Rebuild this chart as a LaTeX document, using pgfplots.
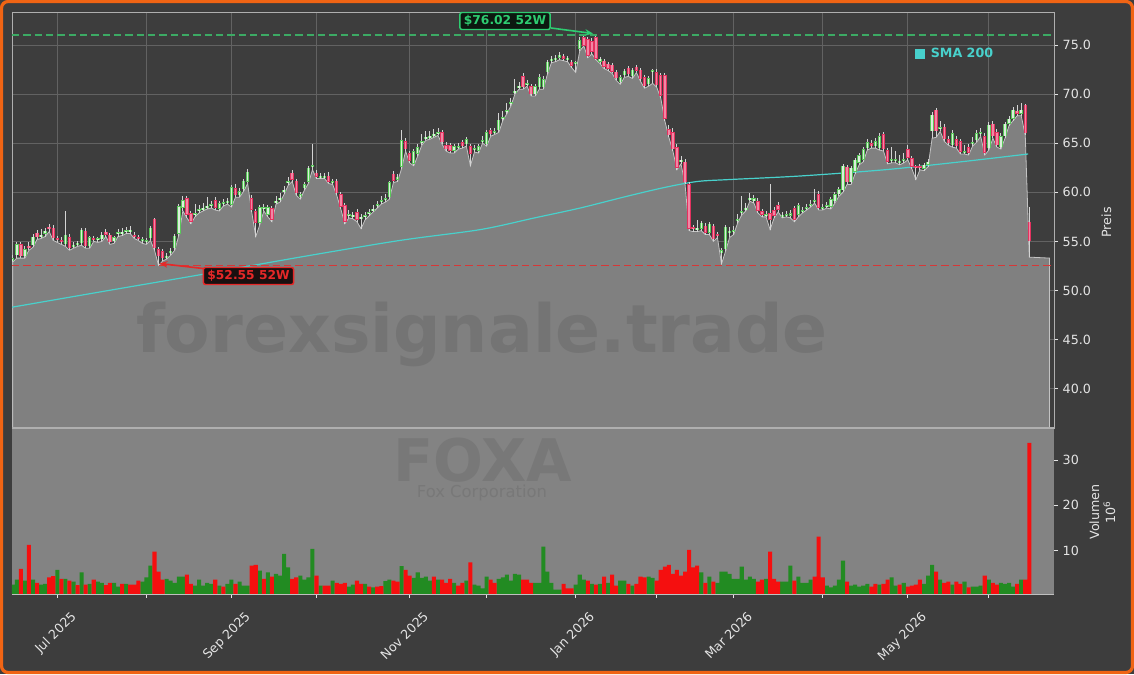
\documentclass[border=0pt]{standalone}
\usepackage{pgfplots}
\pgfplotsset{compat=1.18}
\usepackage{pgfplotstable}
\usepackage{fontspec}
\setmainfont{DejaVu Sans}
\usetikzlibrary{arrows.meta}

\definecolor{bg}{RGB}{61,61,61}
\definecolor{areagray}{RGB}{128,128,128}
\definecolor{arealine}{RGB}{195,195,195}
\definecolor{volbg}{RGB}{131,131,131}
\definecolor{gridc}{RGB}{98,98,98}
\definecolor{spine}{RGB}{175,175,175}
\definecolor{ticktext}{RGB}{228,228,228}
\definecolor{smac}{RGB}{72,209,204}
\definecolor{hiline}{RGB}{60,170,100}
\definecolor{upedge}{RGB}{90,200,90}
\definecolor{upfill}{RGB}{220,238,220}
\definecolor{dnedge}{RGB}{228,50,95}
\definecolor{dnfill}{RGB}{242,135,165}
\definecolor{wick}{RGB}{212,212,212}
\definecolor{volgreen}{RGB}{34,139,34}
\definecolor{volred}{RGB}{245,15,15}
\definecolor{borderc}{RGB}{240,100,20}
\definecolor{wm}{RGB}{116,116,116}
\definecolor{wmb}{RGB}{120,120,120}
\definecolor{annog}{RGB}{46,204,113}
\definecolor{annogbg}{RGB}{12,24,16}
\definecolor{annor}{RGB}{230,40,40}
\definecolor{annorbg}{RGB}{26,16,16}
\definecolor{lowline}{RGB}{215,55,55}

\newcommand\tl{\fontsize{9.5}{11}\selectfont}

\pgfplotstableread{
i o h l c v g
-11 53.0 53.6 52.9 53.3 2.5 1
-10 53.6 54.9 53.3 54.7 3.6 1
-9 54.7 54.9 53.3 53.5 6.0 0
-8 53.5 54.5 53.3 54.2 3.4 1
-7 54.5 54.9 54.1 54.4 11.3 0
-6 54.6 55.8 54.4 55.5 3.6 1
-5 55.9 56.2 55.2 55.4 2.9 0
-4 55.5 56.3 55.3 55.7 2.5 1
-3 55.8 56.4 55.5 56.1 2.7 1
-2 56.5 56.8 56.0 56.3 4.1 0
-1 56.4 56.7 55.1 55.3 4.4 0
0 55.3 55.6 54.9 55.2 5.8 1
1 55.1 55.5 54.7 55.0 3.8 0
2 54.7 58.1 54.5 55.7 3.8 1
3 55.4 55.8 54.1 54.3 3.4 0
4 54.5 54.9 54.3 54.6 3.2 1
5 54.7 55.0 54.5 54.8 2.4 0
6 54.8 56.4 54.6 56.2 5.2 1
7 56.1 56.4 54.3 54.5 2.5 0
8 54.5 55.6 54.3 55.4 2.7 1
9 55.3 55.6 55.0 55.2 3.6 0
10 55.2 55.5 54.9 55.3 3.2 1
11 55.2 56.0 55.0 55.7 2.9 1
12 56.0 56.3 55.5 55.7 2.4 0
13 55.7 55.9 54.7 54.9 2.9 0
14 55.0 55.6 54.8 55.4 2.9 1
15 55.8 56.3 55.5 55.9 2.1 1
16 55.9 56.4 55.6 55.9 2.7 0
17 56.0 56.5 55.8 56.1 2.7 1
18 56.1 56.6 55.8 56.1 2.5 0
19 55.6 56.0 55.3 55.5 2.5 0
20 55.4 55.7 55.1 55.3 3.4 0
21 55.1 55.4 54.8 55.1 3.2 1
22 55.0 55.3 54.7 55.0 4.1 1
23 55.3 56.6 55.1 56.4 6.7 1
24 57.3 57.4 54.1 54.3 9.8 0
25 54.2 54.4 52.55 53.5 5.4 0
26 54.0 54.2 53.0 53.3 3.6 0
27 53.4 53.8 53.2 53.5 3.8 1
28 53.9 54.3 53.6 54.0 3.4 1
29 54.3 55.8 54.1 55.6 2.9 1
30 55.8 58.8 55.6 58.6 4.3 1
31 58.4 59.6 58.1 59.2 4.3 1
32 59.4 59.6 57.4 57.7 4.7 0
33 57.9 58.1 56.8 57.0 2.7 0
34 57.8 58.8 57.5 57.8 2.3 1
35 58.1 58.7 57.9 58.2 3.6 1
36 58.3 58.9 58.1 58.4 2.3 1
37 58.5 59.5 58.3 58.6 2.9 1
38 58.7 59.1 58.4 58.7 2.7 1
39 59.2 59.5 58.2 58.4 3.6 0
40 58.3 59.1 58.1 58.9 2.3 1
41 58.9 59.3 58.6 58.9 2.1 0
42 59.0 59.4 58.8 59.1 2.7 1
43 58.7 60.7 58.5 60.5 3.6 1
44 60.4 60.8 59.5 59.7 2.7 0
45 59.7 60.4 59.5 60.1 3.2 1
46 60.3 61.4 60.1 61.2 2.3 1
47 61.1 62.4 60.9 62.1 2.3 1
48 59.4 59.7 58.0 58.2 6.7 0
49 58.1 58.3 55.5 56.9 6.9 0
50 56.9 58.7 56.7 58.5 5.6 1
51 58.4 58.8 58.1 58.4 3.8 0
52 57.7 58.7 57.5 58.5 5.2 1
53 58.4 58.6 57.0 57.2 4.3 0
54 59.0 59.6 58.8 59.1 4.9 1
55 59.3 59.9 59.0 59.4 4.5 1
56 60.1 60.6 59.8 60.2 9.3 1
57 61.0 61.6 60.7 61.1 6.3 1
58 62.0 62.3 61.1 61.3 3.8 0
59 61.2 61.4 59.7 59.9 4.1 0
60 59.5 60.0 59.3 59.8 4.5 1
61 60.4 61.0 60.2 60.8 3.6 1
62 61.1 62.7 60.9 62.5 4.1 1
63 62.6 64.9 62.3 62.7 10.4 1
64 62.0 62.3 61.4 61.6 4.5 0
65 61.6 62.0 61.4 61.6 2.3 1
66 61.6 62.0 61.4 61.6 2.3 0
67 61.7 62.1 60.9 61.1 2.3 0
68 61.0 61.4 60.8 61.1 3.4 1
69 61.2 61.4 59.7 59.9 2.9 0
70 59.8 60.0 58.3 58.5 2.7 0
71 58.7 58.9 56.8 57.0 2.9 0
72 57.7 58.2 57.4 57.7 2.1 1
73 57.6 58.0 57.3 57.6 2.5 1
74 58.0 58.3 57.0 57.2 3.4 0
75 57.4 57.8 56.3 57.4 2.7 0
76 57.5 58.0 57.2 57.6 2.7 1
77 57.8 58.3 57.6 57.9 2.1 0
78 58.2 58.7 58.0 58.3 1.9 1
79 58.6 59.1 58.4 58.8 2.1 0
80 59.0 59.6 58.8 59.2 2.2 0
81 59.2 59.8 59.0 59.4 3.3 1
82 59.5 61.2 59.3 61.0 3.6 1
83 61.9 62.2 61.0 61.2 3.4 0
84 61.3 61.9 61.1 61.6 3.2 0
85 62.6 66.3 62.4 65.3 6.6 1
86 65.2 65.5 64.2 64.4 5.8 0
87 64.0 64.2 63.0 63.2 4.5 0
88 62.9 64.4 62.7 64.2 4.0 1
89 63.9 64.9 63.7 64.6 5.2 1
90 65.0 65.9 64.8 65.2 4.0 1
91 65.5 66.2 65.3 65.6 4.3 1
92 65.6 66.2 65.4 65.7 3.4 1
93 65.8 66.4 65.6 65.9 4.3 0
94 66.0 66.6 65.8 66.1 3.6 1
95 66.1 66.3 64.9 65.1 3.6 0
96 64.8 65.1 64.2 64.4 2.9 0
97 64.8 65.0 64.0 64.2 3.8 0
98 64.2 64.9 64.0 64.7 2.9 1
99 64.6 65.0 64.4 64.6 2.3 0
100 65.1 65.3 64.5 64.7 2.9 0
101 64.9 65.6 64.7 65.4 3.4 1
102 64.7 64.9 62.7 63.9 7.4 0
103 64.4 64.8 64.1 64.4 2.5 1
104 64.2 64.9 64.0 64.7 2.3 1
105 65.2 65.7 65.0 65.2 1.7 1
106 64.9 66.3 64.7 66.1 4.3 1
107 66.3 66.5 65.7 65.9 3.6 0
108 66.1 66.5 65.9 66.1 2.9 0
109 66.3 68.1 66.1 67.4 3.8 1
110 67.5 68.3 67.3 67.6 4.1 1
111 68.2 69.1 68.0 68.3 4.7 1
112 69.0 69.6 68.8 69.1 3.4 1
113 70.2 71.5 70.0 70.3 4.9 1
114 70.7 71.2 70.5 70.8 4.7 1
115 71.8 72.2 70.5 70.7 3.6 0
116 71.0 71.4 70.8 71.0 3.6 0
117 70.8 71.0 69.8 70.0 2.9 0
118 70.0 71.0 69.8 70.8 2.9 1
119 70.7 72.0 70.5 71.7 2.9 1
120 70.7 71.8 70.5 71.5 10.9 1
121 72.2 73.5 72.0 73.3 5.4 1
122 73.4 73.9 73.2 73.6 2.9 1
123 73.5 74.0 73.3 73.7 1.4 1
124 73.7 74.3 73.5 74.0 1.4 1
125 73.9 74.1 73.4 73.6 2.7 0
126 73.6 73.9 73.3 73.6 1.7 0
127 73.3 73.5 72.7 72.9 1.7 0
128 73.1 73.4 72.2 73.2 2.5 1
129 74.6 75.8 74.4 75.5 4.7 1
130 75.8 76.0 74.9 74.9 3.6 1
131 75.6 75.8 73.7 73.9 3.4 0
132 75.4 75.7 74.1 74.3 2.7 1
133 75.8 76.02 73.5 73.6 2.5 0
134 73.3 73.8 73.1 73.6 2.7 1
135 73.4 73.6 72.6 72.8 4.3 0
136 73.1 73.3 72.4 72.6 2.9 1
137 73.0 73.2 72.1 72.3 4.7 0
138 72.3 72.5 71.4 71.6 2.3 0
139 71.2 71.9 71.0 71.7 3.4 1
140 71.9 72.6 71.7 72.4 3.4 1
141 72.7 72.9 71.8 72.0 2.7 0
142 71.8 72.7 71.6 72.5 2.3 1
143 72.8 73.0 72.2 72.4 2.7 0
144 72.5 72.7 71.3 71.5 4.3 0
145 71.7 71.9 70.6 70.8 4.1 0
146 71.0 71.8 70.8 71.6 4.3 1
147 72.3 72.6 71.1 72.4 4.0 1
148 72.2 72.6 70.7 70.9 3.4 0
149 71.9 72.1 69.6 69.8 5.8 0
150 71.9 72.1 67.3 67.5 6.5 0
151 66.4 66.9 65.6 65.8 6.9 0
152 66.1 66.6 64.2 64.4 4.9 0
153 64.6 64.9 62.3 62.5 5.8 0
154 63.2 63.7 62.9 63.2 4.5 0
155 63.1 63.4 60.8 61.0 5.4 0
156 60.8 61.0 56.1 56.3 10.2 0
157 56.4 56.7 56.0 56.3 6.3 0
158 56.3 57.2 56.0 56.3 6.7 0
159 56.3 57.1 56.1 56.9 5.2 1
160 56.6 56.9 55.7 55.9 2.9 0
161 55.9 57.0 55.7 56.8 4.3 1
162 56.6 56.8 55.0 55.2 3.2 0
163 55.7 56.0 55.4 55.6 2.9 1
164 53.8 54.3 52.7 54.1 5.4 1
165 54.2 56.7 54.0 56.5 5.4 1
166 56.0 56.5 55.4 56.0 4.9 1
167 56.0 56.6 55.7 56.1 3.8 1
168 57.1 57.8 56.9 57.2 3.8 1
169 57.9 59.6 57.7 58.0 6.5 1
170 58.3 58.9 58.1 58.4 3.6 1
171 59.3 59.9 59.1 59.4 4.3 1
172 59.1 59.7 58.9 59.4 3.8 1
173 59.1 59.4 57.9 58.1 3.2 0
174 58.1 58.3 57.5 57.7 3.6 0
175 57.7 58.1 57.5 57.7 3.8 1
176 57.9 60.8 56.2 57.2 9.8 0
177 58.2 58.5 57.4 57.6 3.8 0
178 58.7 59.0 58.0 58.2 3.2 0
179 57.6 58.0 57.4 57.6 3.2 1
180 57.7 58.1 57.5 57.7 3.2 1
181 57.6 58.2 57.4 57.9 6.7 1
182 58.4 58.6 57.0 57.2 3.4 0
183 57.7 58.9 57.5 58.7 4.3 1
184 58.1 58.5 57.9 58.1 2.9 1
185 58.4 58.8 58.2 58.4 2.9 1
186 58.7 59.2 58.5 58.7 3.6 1
187 59.1 60.3 58.9 59.1 4.3 0
188 59.8 60.1 58.2 58.4 13.1 0
189 58.4 58.8 58.2 58.4 4.1 0
190 58.6 59.0 58.4 58.6 2.3 1
191 58.5 59.5 58.3 59.3 1.9 1
192 59.1 60.0 58.9 59.8 2.3 1
193 59.8 60.5 59.6 60.3 3.6 1
194 60.2 62.9 60.0 62.7 7.8 1
195 62.6 62.8 60.8 61.0 3.2 0
196 61.0 62.7 60.8 62.5 2.3 1
197 62.1 63.5 61.9 63.3 2.5 1
198 63.0 64.0 62.8 63.8 2.1 1
199 63.3 64.6 63.1 64.4 2.3 1
200 64.5 65.4 64.3 65.1 2.7 1
201 65.0 65.3 64.5 64.7 2.1 0
202 64.7 65.5 64.5 65.2 2.7 0
203 64.5 66.0 64.3 65.7 2.5 1
204 65.9 66.1 64.2 64.4 2.7 0
205 64.3 64.5 62.9 63.1 3.6 0
206 63.3 64.6 63.0 63.3 4.1 1
207 63.3 64.2 63.0 63.3 2.3 1
208 63.1 63.8 62.8 63.1 2.5 0
209 63.3 64.0 63.0 63.3 2.9 1
210 64.4 64.8 63.3 63.5 2.1 0
211 63.5 63.7 62.4 62.6 2.3 0
212 62.6 62.8 61.3 62.5 2.5 0
213 62.6 62.9 62.3 62.5 3.6 0
214 62.4 63.0 62.2 62.8 2.7 1
215 62.8 63.4 62.6 63.1 4.5 1
216 66.2 68.2 65.5 67.9 6.9 1
217 68.4 68.6 65.6 66.2 5.4 0
218 66.5 67.3 66.2 66.5 3.6 1
219 66.7 67.0 65.2 65.4 2.9 0
220 65.4 65.7 64.8 65.0 3.2 0
221 64.8 66.3 64.6 66.0 2.5 1
222 65.4 65.7 64.5 64.7 3.2 0
223 65.2 65.4 63.9 64.1 2.7 0
224 64.1 64.8 63.9 64.1 3.2 1
225 64.6 64.9 63.8 64.0 1.9 0
226 65.0 65.6 64.7 65.0 2.1 1
227 65.3 66.3 65.1 66.0 2.1 1
228 66.0 66.5 65.7 66.0 2.3 1
229 65.7 66.0 63.8 64.0 4.5 0
230 64.5 67.2 64.3 66.9 3.6 1
231 67.0 67.3 65.5 65.7 2.9 0
232 66.1 66.4 64.6 64.8 2.5 0
233 64.6 66.0 64.4 65.7 2.9 1
234 65.7 67.2 65.5 67.0 2.7 1
235 67.0 67.8 66.8 67.5 2.9 1
236 67.5 68.7 67.3 68.4 2.1 1
237 68.3 68.9 67.8 68.0 2.7 0
238 68.0 69.1 67.8 68.4 3.6 1
239 68.9 69.0 65.8 66.0 3.6 0
240 57.0 58.5 53.4 55.0 33.8 0
245 nan nan 53.3 nan nan 0
}\data

\pgfplotstableread{
i s
-11.2 48.3
10.5 49.85
35.2 51.6
59.9 53.4
84.6 55.1
104.4 56.2
117.9 57.4
129.1 58.4
140.2 59.55
150 60.5
158 61.1
166 61.3
183.4 61.66
204.4 62.3
223 63.1
239.7 63.9
}\sma

\pgfplotstableread{
x hi lo
-11.185 76.02 52.55
246.1 76.02 52.55
}\wk

\pgfplotsset{
  candle/.style 2 args={draw=none, mark=none,
    error bars/.cd, y dir=both, y explicit, error mark=none,
    error bar style={draw=#1, solid, line width=#2}},
}

\begin{document}
\begin{tikzpicture}[x=0.75pt,y=0.75pt]
\useasboundingbox (0,0) rectangle (1134,-674);
\fill[bg] (0,0) rectangle (1134,-674);

% ---------------- price panel ----------------
\begin{axis}[
  at={(9pt,-321pt)}, anchor=south west, scale only axis,
  width=781.5pt, height=312pt,
  xmin=-11.185, xmax=246.1, ymin=36.0, ymax=78.36,
  axis line style={draw=spine, line width=0.6pt},
  xtick={0,22,43,64,87,106,128,148,167,189,210,230}, xticklabels={},
  xtick style={draw=none},
  grid=major, grid style={draw=gridc, line width=0.6pt},
  ytick={40,45,50,55,60,65,70,75},
  ytick pos=right, yticklabel pos=right,
  ytick style={draw=ticktext, line width=0.6pt},
  tick align=outside, major tick length=3pt,
  tick label style={font=\tl, text=ticktext},
  y tick label style={/pgf/number format/fixed, /pgf/number format/fixed zerofill, /pgf/number format/precision=1},
  /pgf/number format/assume math mode=true,
  unbounded coords=discard,
]
\addplot[fill=areagray, draw=arealine, line width=0.6pt] table[x=i,y=l]{\data} \closedcycle;
\addplot[smac, line width=0.9pt, smooth] table[x=i,y=s]{\sma};
% wicks
\addplot[candle={wick}{0.7pt}]
  table[x=i, y expr={(\thisrow{h}+\thisrow{l})/2}, y error expr={(\thisrow{h}-\thisrow{l})/2}]{\data};
% up bodies
\addplot[candle={upedge}{2.6pt}]
  table[x=i, y expr={\thisrow{c}<\thisrow{o} ? nan : (\thisrow{o}+\thisrow{c})/2}, y error expr={max(abs(\thisrow{c}-\thisrow{o})/2,0.1)}]{\data};
\addplot[candle={upfill}{1.1pt}]
  table[x=i, y expr={\thisrow{c}<\thisrow{o} ? nan : (\thisrow{o}+\thisrow{c})/2}, y error expr={max(abs(\thisrow{c}-\thisrow{o})/2-0.06,0.04)}]{\data};
% down bodies
\addplot[candle={dnedge}{2.6pt}]
  table[x=i, y expr={\thisrow{c}<\thisrow{o} ? (\thisrow{o}+\thisrow{c})/2 : nan}, y error expr={max(abs(\thisrow{c}-\thisrow{o})/2,0.1)}]{\data};
\addplot[candle={dnfill}{1.1pt}]
  table[x=i, y expr={\thisrow{c}<\thisrow{o} ? (\thisrow{o}+\thisrow{c})/2 : nan}, y error expr={max(abs(\thisrow{c}-\thisrow{o})/2-0.06,0.04)}]{\data};
% 52-week lines
\addplot[color=lowline, solid, line width=1.3pt, dash pattern=on 5.5pt off 3pt] table[x=x,y=lo]{\wk};
\addplot[color=hiline, solid, line width=1.1pt, dash pattern=on 5.5pt off 3pt] table[x=x,y=hi]{\wk};
\end{axis}

% ---------------- volume panel ----------------
\begin{axis}[
  at={(9pt,-445.5pt)}, anchor=south west, scale only axis,
  width=781.5pt, height=124.5pt,
  xmin=-11.185, xmax=246.1, ymin=0.45, ymax=37.06,
  axis background/.style={fill=volbg},
  axis line style={draw=none},
  xtick={0,43,87,128,167,210},
  xticklabels={Jul 2025,Sep 2025,Nov 2025,Jan 2026,Mar 2026,May 2026},
  minor xtick={22,64,106,148,189,230},
  xtick pos=left, ytick pos=right, yticklabel pos=right,
  ytick={10,20,30},
  tick align=outside, major tick length=3pt, minor tick length=3pt,
  tick style={draw=ticktext, line width=0.6pt},
  tick label style={font=\tl, text=ticktext},
  xticklabel style={xshift=9.5pt, yshift=-4.5pt, rotate=45, anchor=north east},
  /pgf/number format/assume math mode=true,
  unbounded coords=discard,
]
\addplot[ybar, bar width=1, bar shift=0pt, fill=volgreen, draw=none]
  table[x=i, y expr={\thisrow{g}>0.5 ? \thisrow{v} : nan}]{\data};
\addplot[ybar, bar width=1, bar shift=0pt, fill=volred, draw=none]
  table[x=i, y expr={\thisrow{g}<0.5 ? \thisrow{v} : nan}]{\data};
\end{axis}

\draw[spine, line width=0.8pt] (12,-428) -- (1054,-428);
\draw[spine!80!white, line width=0.6pt] (12,-594) -- (1054,-594);

% 52-week low reference line, repeated on top so that it stays red
\draw[lowline, line width=1.3pt, dash pattern=on 5.5pt off 3pt] (12,-265.5) -- (1054,-265.5);

% watermarks
\node[anchor=base, text=wm, font=\fontsize{49.8}{50}\selectfont\bfseries] at (482,-352) {forexsignale.trade};
\node[anchor=base, text=wmb, text depth=0pt, inner sep=0pt, font=\fontsize{44}{44}\selectfont\bfseries] at (483,-481) {FOXA};
\node[anchor=base, text=wmb, inner sep=0pt, font=\fontsize{12.3}{13}\selectfont] at (482,-497.5) {Fox Corporation};

% axis labels
\node[rotate=90, text=ticktext, font=\tl] at (1106.5,-222.5) {Preis};
\node[rotate=90, text=ticktext, font=\tl, align=center, inner sep=0pt] at (1102.5,-512) {Volumen\\[1pt]10\textsuperscript{6}};

% legend
\fill[smac] (915.3,-49.3) rectangle (924.5,-58.8);
\node[anchor=base west, text=smac, font=\tl\bfseries, inner sep=0pt] at (930.5,-58) {SMA 200};

% annotations
\draw[annog, line width=1.2pt, -{Stealth[length=6pt,width=5pt]}] (551,-28) -- (593,-33.5);
\node[draw=annog, line width=1.1pt, fill=annogbg, rounded corners=1.5pt, inner xsep=3pt, inner ysep=2.2pt,
  text=annog, font=\fontsize{9.2}{10}\selectfont\bfseries] at (505,-21) {\$76.02 52W};
\draw[annor, line width=1.2pt, -{Stealth[length=6pt,width=5pt]}] (203,-268.5) -- (159.5,-263.5);
\node[draw=annor, line width=1.1pt, fill=annorbg, rounded corners=1.5pt, inner xsep=3pt, inner ysep=2.2pt,
  text=annor, font=\fontsize{9.2}{10}\selectfont\bfseries] at (248.5,-276) {\$52.55 52W};

% border
\draw[borderc, line width=2.4pt, rounded corners=5pt] (1.5,-1.5) rectangle (1132.5,-672.5);
\end{tikzpicture}
\end{document}
